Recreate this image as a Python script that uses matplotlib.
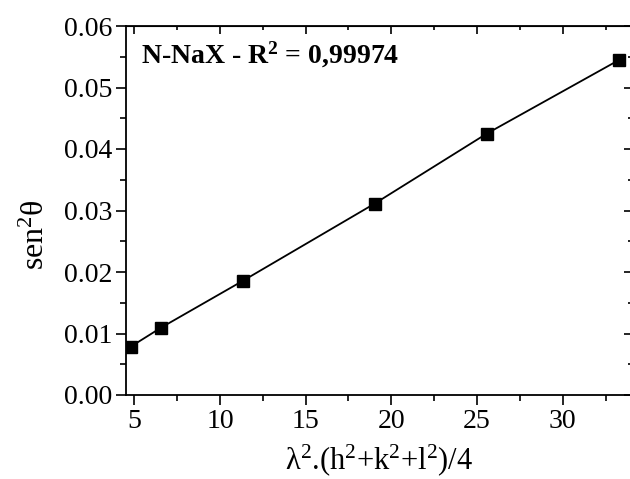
import numpy as np
import matplotlib as mpl
mpl.use('Agg')
import matplotlib.pyplot as plt

## data
lam_hkl = [4.79, 6.56, 11.32, 19.02, 25.56, 33.28]
sen2 = [0.00785, 0.01094, 0.01854, 0.03111, 0.04249, 0.05447]
r2_text = '0,99974'

plt.rcParams['font.family'] = ['Liberation Serif', 'DejaVu Serif']
plt.rcParams['mathtext.fontset'] = 'custom'
plt.rcParams['mathtext.rm'] = 'Liberation Serif'
plt.rcParams['mathtext.it'] = 'Liberation Serif'
plt.rcParams['mathtext.bf'] = 'Liberation Serif:bold'
plt.rcParams['mathtext.default'] = 'regular'

fig = plt.figure(figsize=(6.3, 4.79), dpi=100)
ax = fig.add_axes([126/630, 84/479, 506/630, 369/479])

ax.plot(lam_hkl, sen2, 'k-', lw=1.3, marker='s', ms=8, mfc='k', mec='k')

ax.set_xlim(4.52, 34.04)
ax.set_ylim(0, 0.06)
ax.set_xticks([5, 10, 15, 20, 25, 30])
ax.set_yticks(np.arange(0, 0.061, 0.01))
ax.set_yticklabels(['%.2f' % v for v in np.arange(0, 0.061, 0.01)])
ax.xaxis.set_minor_locator(mpl.ticker.MultipleLocator(2.5))
ax.yaxis.set_minor_locator(mpl.ticker.MultipleLocator(0.005))
ax.tick_params(which='major', direction='out', length=7, width=1.2, labelsize=20, pad=3)
ax.tick_params(which='minor', direction='out', length=4, width=1.2)
for s in ax.spines.values():
    s.set_linewidth(1.3)

# top / right ticks point inward, no labels
top = ax.secondary_xaxis('top')
top.set_xticks([5, 10, 15, 20, 25, 30])
top.xaxis.set_minor_locator(mpl.ticker.MultipleLocator(2.5))
top.tick_params(which='major', direction='in', length=6, width=1.2, labeltop=False)
top.tick_params(which='minor', direction='in', length=3, width=1.2)
right = ax.secondary_yaxis('right')
right.set_yticks(np.arange(0, 0.061, 0.01))
right.yaxis.set_minor_locator(mpl.ticker.MultipleLocator(0.005))
right.tick_params(which='major', direction='in', length=6, width=1.2, labelright=False)
right.tick_params(which='minor', direction='in', length=3, width=1.2)

ax.set_xlabel(r'$\lambda^2$.(h$^2$+k$^2$+l$^2$)/4', fontsize=22, labelpad=6)
ax.set_ylabel(r'sen$^2\theta$', fontsize=23)
ax.yaxis.label.set_va('center')
ax.yaxis.set_label_coords(-0.178, 0.434)

ax.text(0.03, 0.922, r'N-NaX - R$^\mathbf{2}$ = ' + r2_text, transform=ax.transAxes,
        fontsize=20, fontweight='bold', va='center', ha='left')

fig.savefig('out.png', dpi=100)
